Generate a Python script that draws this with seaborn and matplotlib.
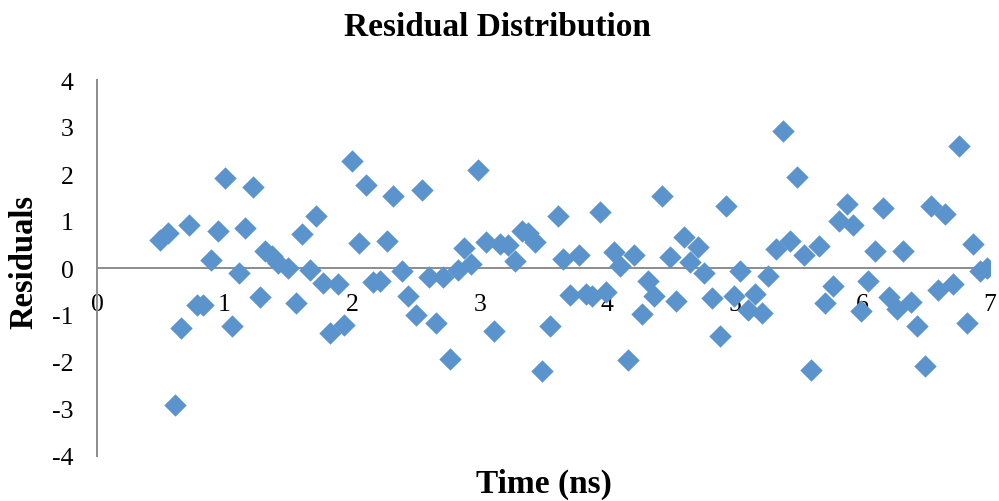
import matplotlib
matplotlib.use("Agg")
import matplotlib.pyplot as plt
import seaborn as sns
import pandas as pd

time_ns = [0.49, 0.56, 0.61, 0.66, 0.72, 0.78, 0.83, 0.89, 0.95, 1.00,
           1.06, 1.11, 1.16, 1.22, 1.28, 1.32, 1.37, 1.42, 1.50, 1.56,
           1.61, 1.67, 1.72, 1.77, 1.83, 1.89, 1.94, 2.00, 2.05, 2.11,
           2.16, 2.22, 2.27, 2.32, 2.39, 2.44, 2.50, 2.55, 2.60, 2.66,
           2.71, 2.77, 2.83, 2.88, 2.93, 2.99, 3.05, 3.11, 3.16, 3.22,
           3.28, 3.33, 3.38, 3.43, 3.49, 3.55, 3.61, 3.65, 3.71, 3.78,
           3.83, 3.88, 3.94, 3.99, 4.05, 4.10, 4.16, 4.21, 4.27, 4.32,
           4.37, 4.43, 4.49, 4.54, 4.60, 4.65, 4.71, 4.76, 4.82, 4.88,
           4.93, 4.99, 5.04, 5.10, 5.16, 5.21, 5.26, 5.32, 5.38, 5.43,
           5.49, 5.54, 5.60, 5.66, 5.71, 5.77, 5.82, 5.88, 5.93, 5.99,
           6.04, 6.10, 6.16, 6.21, 6.27, 6.32, 6.38, 6.43, 6.49, 6.54,
           6.59, 6.65, 6.71, 6.76, 6.82, 6.87, 6.92, 6.98]
residuals = [0.60, 0.75, -2.92, -1.28, 0.92, -0.78, -0.79, 0.16, 0.78, 1.91,
             -1.24, -0.11, 0.85, 1.72, -0.62, 0.37, 0.25, 0.11, 0.00, -0.74,
             0.72, -0.05, 1.10, -0.32, -1.38, -0.33, -1.21, 2.27, 0.53, 1.76,
             -0.30, -0.28, 0.57, 1.53, -0.07, -0.60, -1.01, 1.65, -0.19, -1.18,
             -0.19, -1.93, -0.04, 0.43, 0.09, 2.09, 0.55, -1.35, 0.51, 0.50,
             0.14, 0.78, 0.74, 0.55, -2.20, -1.24, 1.11, 0.20, -0.57, 0.27,
             -0.55, -0.60, 1.19, -0.51, 0.33, 0.04, -1.95, 0.27, -0.98, -0.27,
             -0.60, 1.54, 0.23, -0.71, 0.65, 0.12, 0.44, -0.11, -0.64, -1.44,
             1.31, -0.60, -0.06, -0.89, -0.55, -0.96, -0.16, 0.41, 2.92, 0.58,
             1.93, 0.28, -2.16, 0.46, -0.74, -0.39, 0.99, 1.36, 0.91, -0.91,
             -0.28, 0.37, 1.28, -0.62, -0.87, 0.37, -0.72, -1.24, -2.09, 1.31,
             -0.46, 1.15, -0.34, 2.60, -1.17, 0.51, -0.07, 0.01]
x_ticks = [0, 1, 2, 3, 4, 5, 6, 7]
y_ticks = [-4, -3, -2, -1, 0, 1, 2, 3, 4]

df = pd.DataFrame({"Time (ns)": time_ns, "Residuals": residuals})

sns.set_style("white")
plt.rcParams["font.family"] = ["Liberation Serif", "DejaVu Serif"]
plt.rcParams["text.color"] = "black"
plt.rcParams["xtick.color"] = "black"
plt.rcParams["ytick.color"] = "black"

fig = plt.figure(figsize=(9.99, 5.02), dpi=100)
ax = fig.add_axes([97 / 999, 45 / 502, (990 - 97) / 999, (457 - 81) / 502])

sns.scatterplot(data=df, x="Time (ns)", y="Residuals", marker="D", s=130,
                color="#5B93CC", linewidth=0, ax=ax, zorder=3)

ax.set_xlim(0, 7)
ax.set_ylim(-4, 4)
ax.set_xticks(x_ticks)
ax.set_yticks(y_ticks)
ax.set_xticklabels([str(v) for v in x_ticks])
ax.set_yticklabels([str(v) for v in y_ticks])

axis_col = "#8C8C8C"
for side in ["top", "right"]:
    ax.spines[side].set_visible(False)
ax.spines["bottom"].set_position(("data", 0))
for side in ["left", "bottom"]:
    ax.spines[side].set_color(axis_col)
    ax.spines[side].set_linewidth(1.4)

ax.tick_params(axis="both", which="major", direction="out", length=6,
               width=1.4, color=axis_col, labelsize=18.5, labelcolor="black")
ax.tick_params(axis="y", pad=11)
ax.tick_params(axis="x", pad=12)

ax.set_xlabel("")
ax.set_ylabel("")
fig.text(544 / 999, 1 - 484 / 502, "Time (ns)", ha="center", va="center",
         fontsize=24, fontweight="bold", color="black")
fig.text(24 / 999, 1 - 262 / 502, "Residuals", ha="center", va="center",
         rotation=90, fontsize=23.5, fontweight="bold", color="black")
fig.text(497 / 999, 1 - 28 / 502, "Residual Distribution", ha="center",
         va="center", fontsize=24, fontweight="bold", color="black")

fig.savefig("out.png", dpi=100)
